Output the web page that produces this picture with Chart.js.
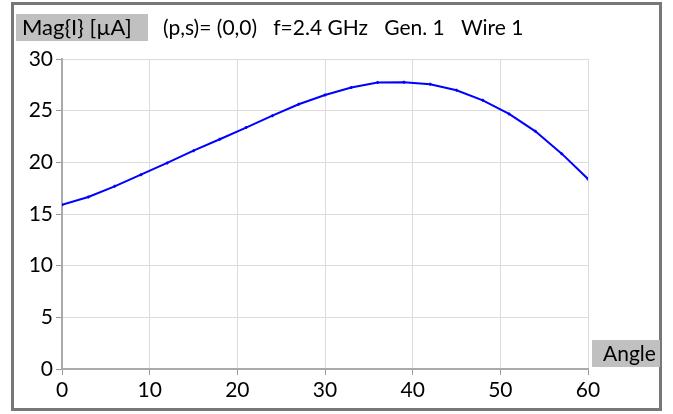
<!DOCTYPE html>
<html lang="en">
<head>
<meta charset="UTF-8">
<title>Mag{I} vs Angle</title>
<script src="https://cdn.jsdelivr.net/npm/chart.js"></script>
<style>
  html, body { margin: 0; padding: 0; background: #fff; }
  #wrap { width: 673px; height: 414px; position: relative; }
</style>
</head>
<body>
<div id="wrap"><canvas id="grafico" width="673" height="414"></canvas></div>

<script>
// dados
const angles = [0, 3, 6, 9, 12, 15, 18, 21, 24, 27, 30, 33, 36, 39, 42, 45, 48, 51, 54, 57, 60];
const magI = [15.9, 16.65, 17.68, 18.81, 19.94, 21.13, 22.23, 23.36, 24.52, 25.62, 26.52,
              27.25, 27.72, 27.75, 27.56, 26.98, 26.0, 24.68, 23.0, 20.84, 18.39];
const xTicks = [0, 10, 20, 30, 40, 50, 60];
const yTicks = [0, 5, 10, 15, 20, 25, 30];

const FONT = 'Lato, "Open Sans", sans-serif';

// moldura, rótulos cinzas e título
const framePlugin = {
  id: 'frame',
  beforeDraw(chart) {
    const c = chart.ctx;
    c.save();
    c.fillStyle = '#fff';
    c.fillRect(0, 0, chart.width, chart.height);
    c.restore();
  },
  afterDraw(chart) {
    const c = chart.ctx;
    c.save();
    c.strokeStyle = '#777';
    c.lineWidth = 3;
    c.strokeRect(12.5, 3.5, 648, 406);

    c.fillStyle = '#c0c0c0';
    c.fillRect(16, 14, 132, 27);
    c.fillRect(592, 340, 68, 27);

    c.fillStyle = '#000';
    c.textBaseline = 'middle';
    c.font = '22px ' + FONT;
    c.fillText('Mag{I} [\u00b5A]', 22, 28);
    c.font = '21px ' + FONT;
    c.fillText('(p,s)= (0,0)   f=2.4 GHz   Gen. 1   Wire 1', 163, 28);
    c.fillText('Angle', 603, 354);
    c.restore();
  }
};

new Chart(document.getElementById('grafico'), {
  type: 'line',
  data: {
    datasets: [{
      data: angles.map((a, i) => ({ x: a, y: magI[i] })),
      borderColor: '#0000ff',
      backgroundColor: '#0000ff',
      borderWidth: 2,
      pointRadius: 1.5,
      pointStyle: 'cross',
      pointBorderWidth: 1.5,
      tension: 0
    }]
  },
  options: {
    responsive: false,
    animation: false,
    layout: { padding: { left: 0, top: 59, right: 85, bottom: 0 } },
    plugins: { legend: { display: false }, tooltip: { enabled: false } },
    scales: {
      x: {
        type: 'linear',
        min: 0, max: 60,
        afterBuildTicks: s => { s.ticks = xTicks.map(v => ({ value: v })); },
        afterFit: s => { s.height = 45; },
        grid: { color: '#dcdcdc', tickLength: 6, tickColor: '#999' },
        border: { color: '#aaa', width: 2 },
        ticks: { color: '#000', font: { size: 21, family: FONT }, padding: 3, maxRotation: 0 }
      },
      y: {
        min: 0, max: 30,
        afterBuildTicks: s => { s.ticks = yTicks.map(v => ({ value: v })); },
        afterFit: s => { s.width = 62; },
        grid: { color: '#dcdcdc', tickLength: 6, tickColor: '#999' },
        border: { color: '#aaa', width: 2 },
        ticks: { color: '#000', font: { size: 21, family: FONT }, padding: 3 }
      }
    }
  },
  plugins: [framePlugin]
});
</script>
</body>
</html>
